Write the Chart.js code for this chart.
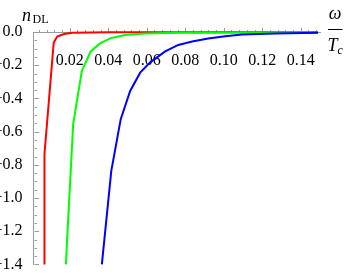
<!DOCTYPE html>
<html>
<head>
<meta charset="utf-8">
<script src="https://cdn.jsdelivr.net/npm/chart.js@4.4.0/dist/chart.umd.min.js"></script>
<style>
  html, body { margin: 0; padding: 0; background: #fff; }
</style>
</head>
<body>
<canvas id="chart" width="346" height="277"></canvas>
<script>
// n_DL against omega / T_c, three curves
const redX = [0.0069, 0.0069, 0.0117, 0.0135, 0.0171, 0.0213, 0.04, 0.08, 0.149];
const redY = [-1.4, -0.735, -0.063, -0.027, -0.012, -0.005, -0.002, -0.001, -0.001];

const greenX = [0.0180, 0.0218, 0.0263, 0.0309, 0.0357, 0.0413, 0.0488, 0.0587, 0.0764, 0.149];
const greenY = [-1.4, -0.555, -0.235, -0.117, -0.069, -0.037, -0.018, -0.009, -0.005, -0.003];

const blueX = [0.0367, 0.0416, 0.0465, 0.0514, 0.0566, 0.0618, 0.0696, 0.0764, 0.0836, 0.0919, 0.1008, 0.1096, 0.1268, 0.149];
const blueY = [-1.4, -0.836, -0.525, -0.355, -0.245, -0.183, -0.117, -0.078, -0.057, -0.039, -0.025, -0.015, -0.009, -0.005];

const xTicks = [0.02, 0.04, 0.06, 0.08, 0.10, 0.12, 0.14];
const yTicks = [0, -0.2, -0.4, -0.6, -0.8, -1.0, -1.2, -1.4];

const toPoints = (xs, ys) => xs.map((x, i) => ({ x: x, y: ys[i] }));

const axisColor = '#9a9a9a';
const serif = '"Liberation Serif", "DejaVu Serif", serif';

// tick marks point into the plot, so draw them here instead of via grid
const axisExtras = {
  id: 'axisExtras',
  beforeDatasetsDraw(chart) {
    const { ctx, scales: { x, y } } = chart;
    const y0 = Math.round(y.getPixelForValue(0)) + 0.5;
    const x0 = Math.round(x.left) + 0.5;
    ctx.save();
    ctx.strokeStyle = axisColor;
    ctx.lineWidth = 1;
    ctx.beginPath();
    for (let k = 1; k * 0.004 <= 0.1501; k++) {
      const px = Math.round(x.getPixelForValue(k * 0.004)) + 0.5;
      const len = k % 5 === 0 ? 4.5 : 2.5;
      ctx.moveTo(px, y0);
      ctx.lineTo(px, y0 - len);
    }
    for (let k = 0; k <= 28; k++) {
      const py = Math.round(y.getPixelForValue(-k * 0.05)) + 0.5;
      const len = k % 4 === 0 ? 4.5 : 2.5;
      ctx.moveTo(x0, py);
      ctx.lineTo(x0 + len, py);
    }
    ctx.stroke();
    ctx.restore();
  },
  afterDraw(chart) {
    const ctx = chart.ctx;
    ctx.save();
    ctx.fillStyle = '#000';
    ctx.textBaseline = 'alphabetic';
    // y title
    ctx.font = 'italic 18px ' + serif;
    ctx.textAlign = 'left';
    ctx.fillText('n', 22, 20.5);
    ctx.font = '12px ' + serif;
    ctx.fillText('DL', 32.5, 22.5);
    // x title as a fraction
    ctx.font = 'italic 18px ' + serif;
    ctx.textAlign = 'center';
    ctx.fillText('ω', 335, 19);
    ctx.strokeStyle = '#000';
    ctx.lineWidth = 1;
    ctx.beginPath();
    ctx.moveTo(328, 29.5);
    ctx.lineTo(342.5, 29.5);
    ctx.stroke();
    ctx.textAlign = 'left';
    ctx.fillText('T', 327.5, 50.5);
    ctx.font = 'italic 12px ' + serif;
    ctx.fillText('c', 337.5, 53.5);
    ctx.restore();
  }
};

const line = (data, color, order) => ({
  data: data,
  borderColor: color,
  borderWidth: 2,
  pointRadius: 0,
  tension: 0,
  fill: false,
  clip: false,
  order: order
});

new Chart(document.getElementById('chart').getContext('2d'), {
  type: 'line',
  data: {
    datasets: [
      line(toPoints(redX, redY), '#ff0000', 3),
      line(toPoints(greenX, greenY), '#00ff00', 2),
      line(toPoints(blueX, blueY), '#0000ff', 1)
    ]
  },
  options: {
    responsive: false,
    animation: false,
    devicePixelRatio: 1,
    layout: { padding: { top: 32, right: 26, bottom: 11, left: 0 } },
    plugins: { legend: { display: false }, tooltip: { enabled: false } },
    scales: {
      x: {
        type: 'linear',
        position: { y: 0 },
        min: 0.0012,
        max: 0.15,
        afterBuildTicks: (scale) => { scale.ticks = xTicks.map(v => ({ value: v })); },
        ticks: {
          callback: (v) => v.toFixed(2),
          font: { family: serif, size: 16 },
          color: '#000',
          maxRotation: 0,
          autoSkip: false,
          padding: 11
        },
        grid: { display: false },
        border: { color: axisColor, width: 1 }
      },
      y: {
        type: 'linear',
        min: -1.4,
        max: 0,
        afterBuildTicks: (scale) => { scale.ticks = yTicks.map(v => ({ value: v })); },
        afterFit: (scale) => { scale.width = 33.5; },
        ticks: {
          callback: (v) => v === 0 ? '0.0' : '\u2212' + Math.abs(v).toFixed(1),
          font: { family: serif, size: 16 },
          color: '#000',
          padding: 3
        },
        grid: { display: false },
        border: { color: axisColor, width: 1 }
      }
    }
  },
  plugins: [axisExtras]
});
</script>
</body>
</html>
